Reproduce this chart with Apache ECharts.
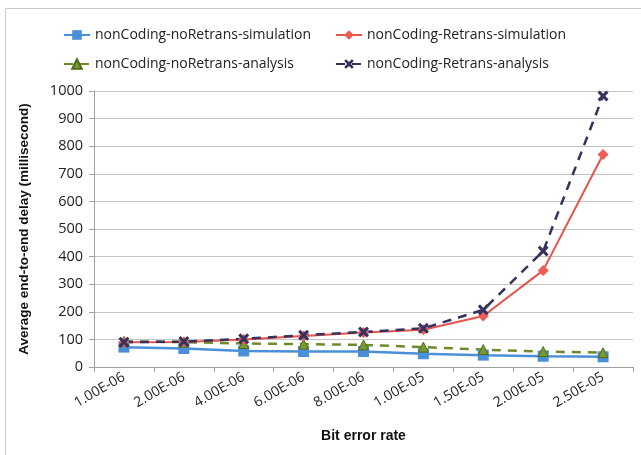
<!DOCTYPE html>
<html><head><meta charset="utf-8">
<script src="https://cdn.jsdelivr.net/npm/echarts@6/dist/echarts.min.js"></script>
<style>html,body{margin:0;padding:0;background:#fff}#c{width:641px;height:455px}</style>
</head><body><div id="c"></div>
<script>
const categories = ['1.00E-06','2.00E-06','4.00E-06','6.00E-06','8.00E-06','1.00E-05','1.50E-05','2.00E-05','2.50E-05'];
const noRetransSim = [72, 67, 58, 56, 56, 48, 43, 39, 37];
const retransSim = [90, 91, 100, 112, 125, 135, 185, 350, 770];
const noRetransAna = [93, 90, 85, 83, 80, 72, 63, 56, 52];
const retransAna = [90, 92, 102, 115, 127, 140, 207, 420, 982];
const seriesNames = ['nonCoding-noRetrans-simulation','nonCoding-Retrans-simulation','nonCoding-noRetrans-analysis','nonCoding-Retrans-analysis'];

const font = 'Open Sans';
const xSym = 'path://M2,0 L5,3 L8,0 L10,2 L7,5 L10,8 L8,10 L5,7 L2,10 L0,8 L3,5 L0,2 Z';
const chart = echarts.init(document.getElementById('c'));
function lg(name, left, top){
  return {data:[name], left:left, top:top, itemWidth:26, itemHeight:12, itemGap:0,
    textStyle:{fontFamily:font, fontSize:14, color:'#222'}};
}
chart.setOption({
  animation:false,
  graphic:[{type:'rect', shape:{x:5.5,y:8.5,width:700,height:500}, style:{fill:'none', stroke:'#c8c8c8', lineWidth:1}}],
  legend:[lg(seriesNames[0],58,23), lg(seriesNames[1],330,23), lg(seriesNames[2],58,52), lg(seriesNames[3],330,52)],
  grid:{left:94, right:8, top:91, bottom:88},
  xAxis:{type:'category', data:categories, boundaryGap:true,
    axisLine:{lineStyle:{color:'#a0a0a0'}}, axisTick:{show:true, length:5, lineStyle:{color:'#a0a0a0'}},
    axisLabel:{rotate:30, fontFamily:font, fontSize:14, color:'#222', margin:9},
    name:'Bit error rate', nameLocation:'middle', nameGap:62,
    nameTextStyle:{fontFamily:'Liberation Sans', fontSize:14, fontWeight:'bold', color:'#111'}},
  yAxis:{type:'value', min:0, max:1000, interval:100,
    axisLine:{show:true, lineStyle:{color:'#a0a0a0'}}, axisTick:{show:true, length:5, lineStyle:{color:'#a0a0a0'}},
    splitLine:{lineStyle:{color:'#c4c4c4', width:1}},
    axisLabel:{fontFamily:font, fontSize:14.5, color:'#222', margin:11, formatter:function(v){return String(v);}},
    name:'Average end-to-end delay (millisecond)', nameLocation:'middle', nameGap:63,
    nameTextStyle:{fontFamily:'Liberation Sans', fontSize:13.5, fontWeight:'bold', color:'#111'}},
  series:[
    {name:seriesNames[0], type:'line', data:noRetransSim, symbol:'rect', symbolSize:11,
      lineStyle:{color:'#4a90d9', width:2.5}, itemStyle:{color:'#4a90d9'}},
    {name:seriesNames[2], type:'line', data:noRetransAna, symbol:'triangle', symbolSize:10,
      lineStyle:{color:'#6e8b2a', width:2.5, type:[9,7]}, itemStyle:{color:'#7a9a2e', borderColor:'#4f6b1a', borderWidth:1}},
    {name:seriesNames[1], type:'line', data:retransSim, symbol:'diamond', symbolSize:11,
      lineStyle:{color:'#e8524a', width:2}, itemStyle:{color:'#ec5e55'}},
    {name:seriesNames[3], type:'line', data:retransAna, symbol:xSym, symbolSize:11,
      lineStyle:{color:'#35325e', width:2.5, type:[9,7]}, itemStyle:{color:'#35325e'}}
  ]
});
</script></body></html>
